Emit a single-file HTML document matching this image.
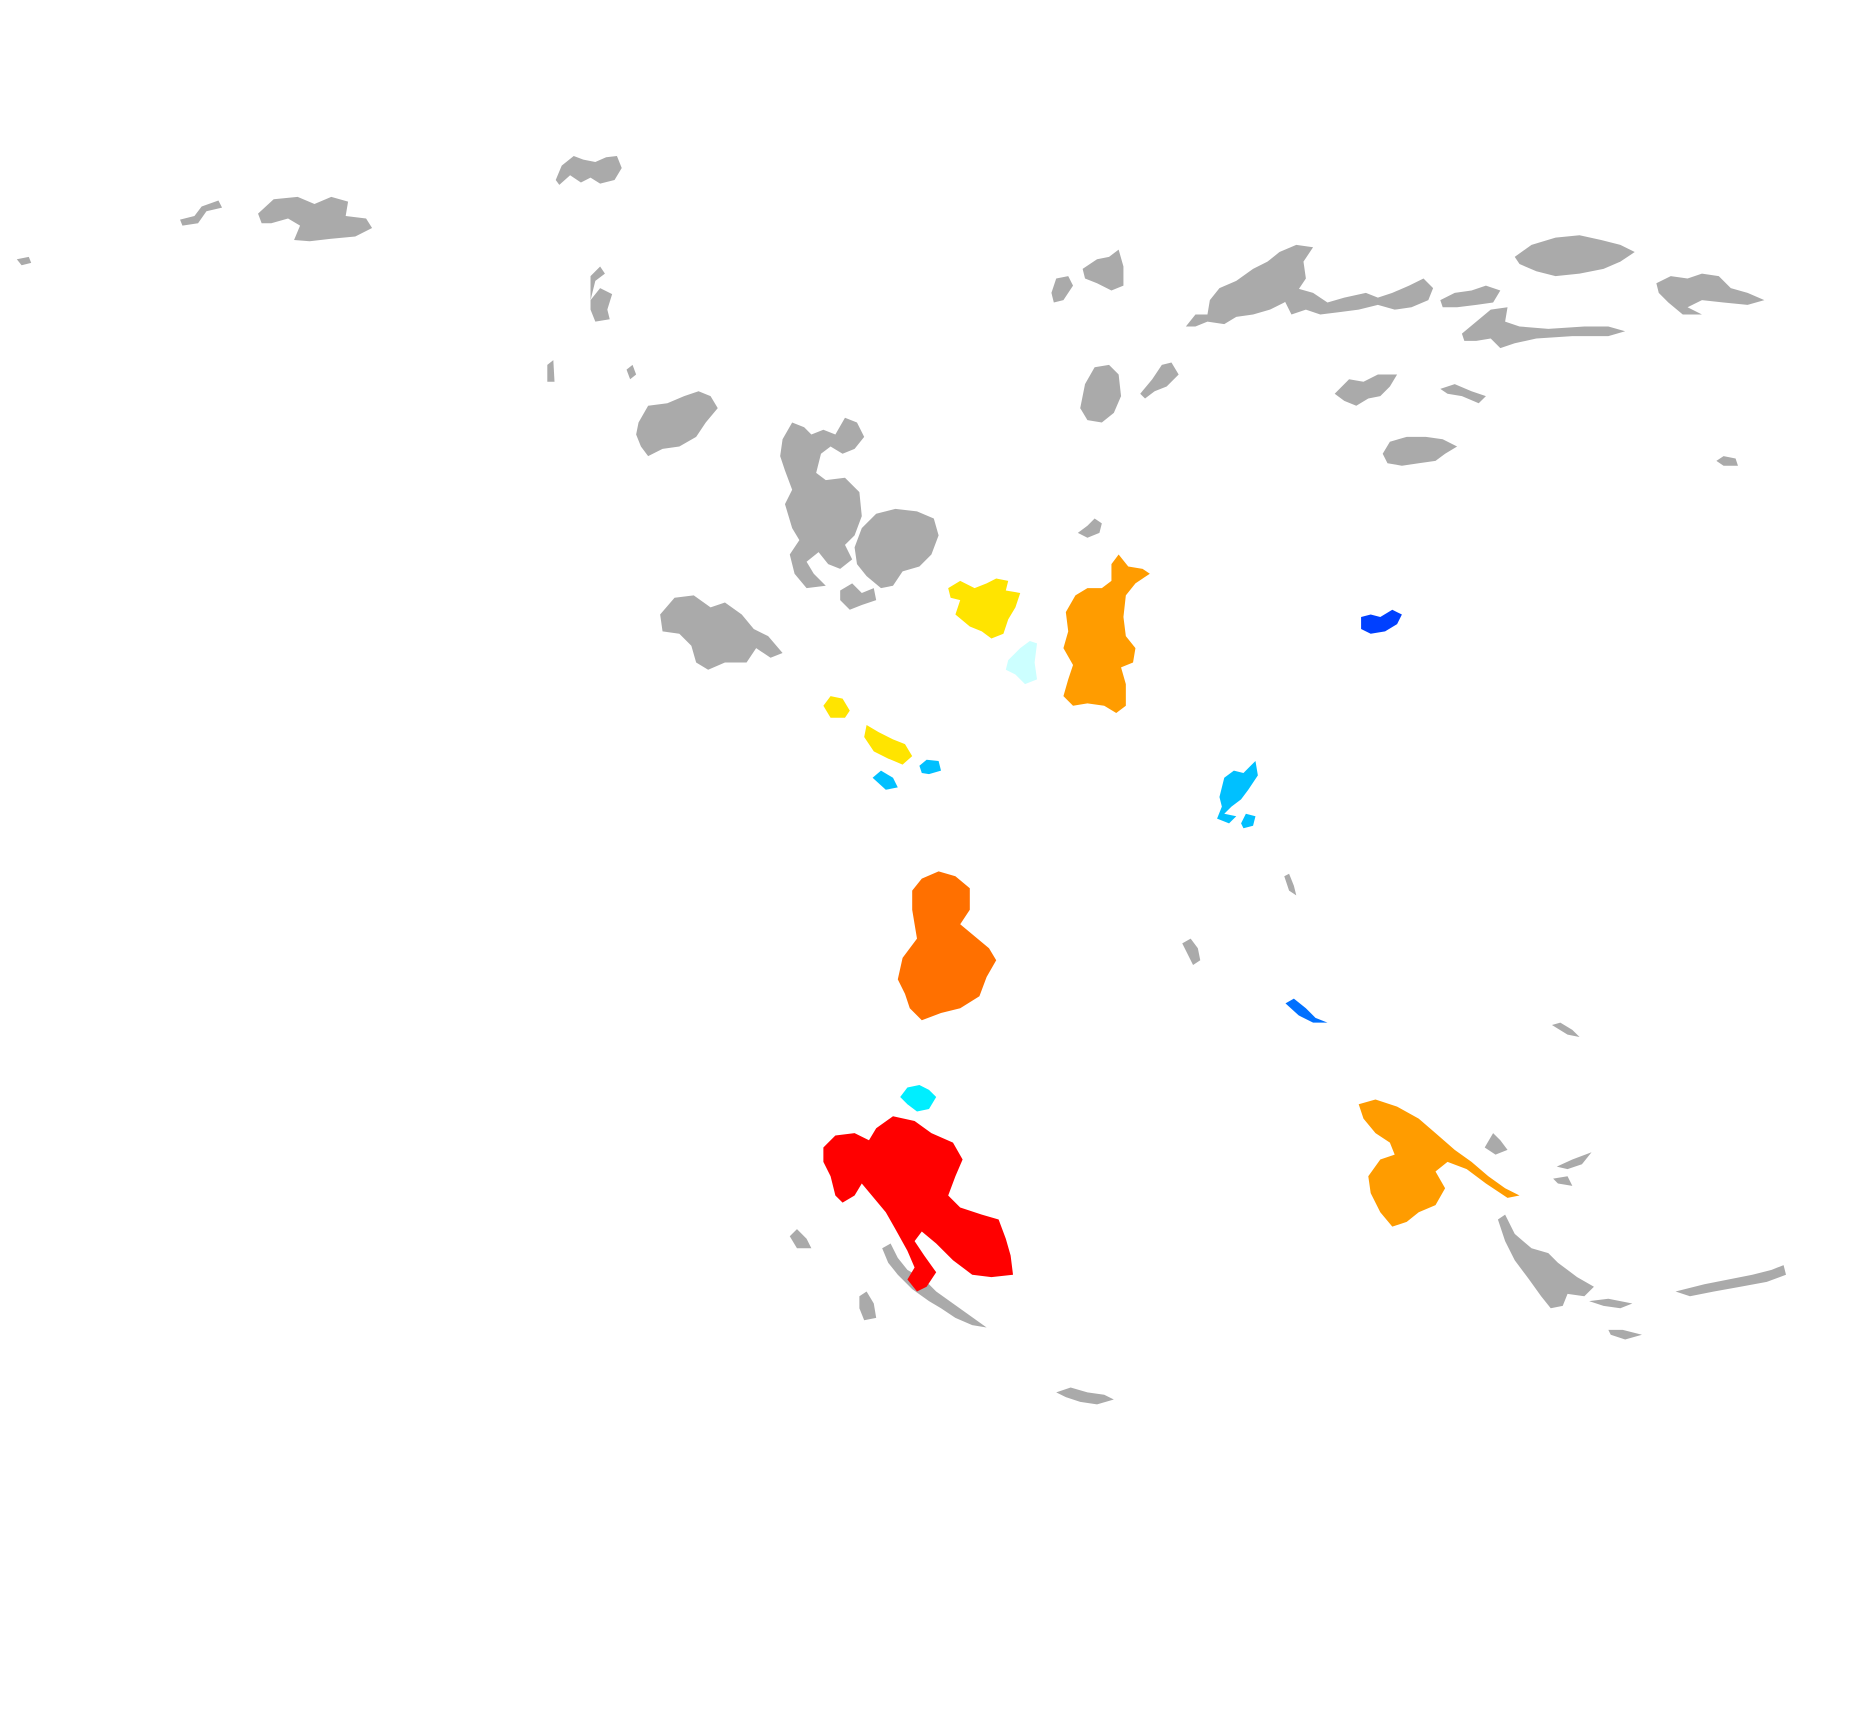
<!DOCTYPE html>
<html><head><meta charset="utf-8"><style>
html,body{margin:0;padding:0;background:#fff;width:1870px;height:1714px;overflow:hidden}
svg{display:block}
</style></head><body>
<svg width="1870" height="1714" viewBox="0 0 1558 1428" preserveAspectRatio="none" xmlns="http://www.w3.org/2000/svg">
<g fill="#aaaaaa">
<polygon points="14,216 24,214 26,219 18,221"/>
<polygon points="150,183 162,180 168,172 182,167 185,173 172,176 165,186 152,188"/>
<polygon points="215,178 228,166 248,164 262,170 276,164 290,168 288,180 305,182 310,190 296,197 275,199 258,201 245,200 250,188 240,182 226,186 218,186"/>
<polygon points="463,150 468,138 478,130 486,133 496,135 505,131 514,130 518,140 512,150 500,153 492,148 484,152 475,146 466,154"/>
<polygon points="492,230 500,222 504,228 496,234 492,250 500,240 510,245 506,258 508,266 496,268 492,258"/>
<polygon points="456,304 461,300 462,318 456,318"/>
<polygon points="522,308 527,304 530,312 525,316"/>
<polygon points="532,352 540,338 556,336 570,330 582,326 592,330 598,340 588,352 580,364 566,372 552,374 540,380 534,372 530,362"/>
<polygon points="652,366 660,352 670,356 676,362 686,358 696,362 704,348 714,352 720,364 712,374 702,378 692,372 684,378 680,394 688,400 704,398 716,410 718,430 712,446 704,454 710,466 700,474 690,470 682,460 672,468 678,478 688,488 672,490 662,478 658,462 666,450 660,440 654,420 660,408 654,392 650,380"/>
<polygon points="718,440 730,428 746,424 764,426 778,432 782,446 776,462 766,472 752,476 744,488 734,490 722,480 714,470 712,456"/>
<polygon points="700,492 710,486 718,494 728,490 730,500 718,504 708,508 700,500"/>
<polygon points="550,512 562,498 578,496 592,506 604,502 618,512 628,524 640,530 652,544 642,548 630,540 622,552 604,552 590,558 580,552 576,538 566,528 552,526"/>
<polygon points="876,244 880,232 890,230 894,238 886,250 878,252"/>
<polygon points="902,224 914,216 924,214 932,208 936,222 936,238 926,242 914,236 904,232"/>
<polygon points="900,340 904,320 912,306 924,304 932,312 934,330 928,344 918,352 906,350"/>
<polygon points="950,328 960,316 968,304 976,302 982,312 972,322 962,326 954,332"/>
<polygon points="898,444 906,438 912,432 918,436 916,444 906,448"/>
<polygon points="988,272 996,262 1006,262 1008,250 1016,240 1030,234 1044,224 1056,218 1066,210 1080,204 1094,206 1086,218 1088,232 1080,244 1070,252 1058,258 1044,262 1030,264 1020,270 1006,268 996,272"/>
<polygon points="1070,250 1080,240 1094,244 1106,252 1120,248 1138,244 1148,248 1160,244 1174,238 1186,232 1194,240 1190,250 1176,256 1162,258 1148,254 1132,258 1116,260 1100,262 1088,258 1076,262"/>
<polygon points="1200,250 1212,244 1226,242 1238,238 1250,242 1244,252 1230,254 1214,256 1202,256"/>
<polygon points="1218,278 1230,268 1242,258 1256,256 1254,268 1266,272 1290,274 1320,272 1340,272 1354,276 1340,280 1310,280 1280,282 1262,286 1250,290 1242,282 1230,284 1220,284"/>
<polygon points="1262,214 1276,204 1296,198 1316,196 1334,200 1350,204 1362,210 1350,218 1336,224 1316,228 1296,230 1280,226 1266,220"/>
<polygon points="1380,236 1392,230 1406,232 1418,228 1432,230 1442,240 1456,244 1470,250 1456,254 1436,252 1418,250 1406,256 1418,262 1402,262 1390,252 1382,244"/>
<polygon points="1112,328 1124,316 1136,318 1148,312 1164,312 1158,322 1150,330 1140,332 1130,338 1120,334"/>
<polygon points="1200,324 1212,320 1226,326 1238,330 1232,336 1218,330 1206,328"/>
<polygon points="1152,378 1158,368 1172,364 1188,364 1202,366 1214,372 1204,378 1196,384 1182,386 1168,388 1156,386"/>
<polygon points="1430,384 1436,380 1446,382 1448,388 1436,388"/>
<polygon points="1070,730 1074,728 1078,738 1080,746 1074,742"/>
<polygon points="985,786 992,782 998,790 1000,800 994,804 990,796"/>
<polygon points="1293,854 1300,852 1310,858 1316,864 1306,862"/>
<polygon points="1237,956 1244,944 1250,950 1256,958 1246,962"/>
<polygon points="1297,972 1310,966 1326,960 1318,970 1306,974"/>
<polygon points="1294,982 1306,980 1310,988 1298,986"/>
<polygon points="1248,1016 1254,1012 1262,1028 1276,1040 1290,1044 1298,1052 1314,1064 1328,1072 1320,1080 1306,1078 1302,1088 1292,1090 1284,1080 1274,1066 1262,1050 1254,1034"/>
<polygon points="1324,1084 1340,1082 1360,1086 1350,1090 1336,1088"/>
<polygon points="1340,1108 1352,1108 1368,1112 1354,1116 1342,1112"/>
<polygon points="1396,1076 1420,1070 1440,1066 1460,1062 1476,1058 1486,1054 1488,1062 1472,1068 1450,1072 1428,1076 1408,1080"/>
<polygon points="658,1030 664,1024 672,1032 676,1040 664,1040"/>
<polygon points="716,1080 722,1076 728,1086 730,1098 720,1100 716,1090"/>
<polygon points="735,1040 742,1036 748,1048 756,1058 770,1066 780,1076 794,1086 808,1096 822,1106 810,1104 796,1098 784,1090 774,1084 760,1074 748,1062 740,1052"/>
<polygon points="880,1160 892,1156 906,1160 920,1162 928,1166 914,1170 900,1168 888,1164"/>
</g>
<polygon fill="#ffe400" points="790,490 800,484 812,490 822,486 830,482 840,484 838,492 850,494 846,506 840,516 836,528 826,532 818,526 808,522 796,512 800,500 792,498"/>
<polygon fill="#ccffff" points="840,550 850,540 858,534 864,536 862,552 864,566 854,570 846,562 838,558"/>
<polygon fill="#ff9c00" points="888,510 896,496 906,490 918,490 926,484 926,470 932,462 940,472 952,474 958,478 946,486 938,496 936,514 938,530 946,540 944,552 934,556 938,570 938,588 930,594 920,588 906,586 894,588 886,580 890,566 894,554 886,540 890,526"/>
<polygon fill="#0040ff" points="1134,514 1142,512 1150,514 1160,508 1168,512 1164,520 1154,526 1142,528 1134,524"/>
<polygon fill="#ffe400" points="686,588 692,580 702,582 708,592 704,598 692,598"/>
<polygon fill="#ffe400" points="720,614 722,604 732,610 744,616 754,620 760,630 752,637 740,632 728,626"/>
<polygon fill="#00c0ff" points="766,638 772,633 782,634 784,642 774,645 768,644"/>
<polygon fill="#00c0ff" points="727,648 734,642 744,648 748,656 738,658"/>
<polygon fill="#00c0ff" points="1016,664 1020,648 1028,642 1036,644 1042,638 1046,634 1048,646 1040,658 1034,666 1026,672 1020,678 1030,680 1024,686 1014,682 1018,672"/>
<polygon fill="#00c0ff" points="1034,686 1038,678 1046,680 1044,688 1036,690"/>
<polygon fill="#ff7000" points="760,742 768,732 782,726 796,730 808,740 808,758 800,770 812,780 824,790 830,800 822,814 816,830 800,840 784,844 768,850 758,840 754,828 748,816 752,798 764,782 762,770 760,758"/>
<polygon fill="#0070ff" points="1071,836 1078,832 1088,840 1096,848 1106,852 1094,852 1082,846"/>
<polygon fill="#00eeff" points="750,914 756,906 766,904 774,908 780,914 774,924 764,926 756,920"/>
<polygon fill="#ff0000" points="686,956 696,946 712,944 724,950 730,940 744,930 762,934 776,944 794,952 802,966 796,980 790,996 800,1006 818,1012 832,1016 838,1032 842,1046 844,1062 826,1064 810,1062 794,1050 780,1036 768,1026 762,1034 770,1046 780,1060 772,1072 764,1076 756,1066 762,1056 756,1042 746,1024 738,1010 728,998 718,986 712,996 702,1002 696,996 692,980 686,968"/>
<polygon fill="#ff9c00" points="1132,920 1146,916 1164,922 1182,932 1196,944 1212,958 1226,968 1240,980 1254,990 1266,996 1256,998 1238,986 1222,974 1206,968 1196,976 1204,990 1196,1004 1182,1010 1172,1018 1160,1022 1150,1010 1142,994 1140,980 1150,966 1162,962 1158,952 1146,944 1136,932"/>
</svg>
</body></html>
